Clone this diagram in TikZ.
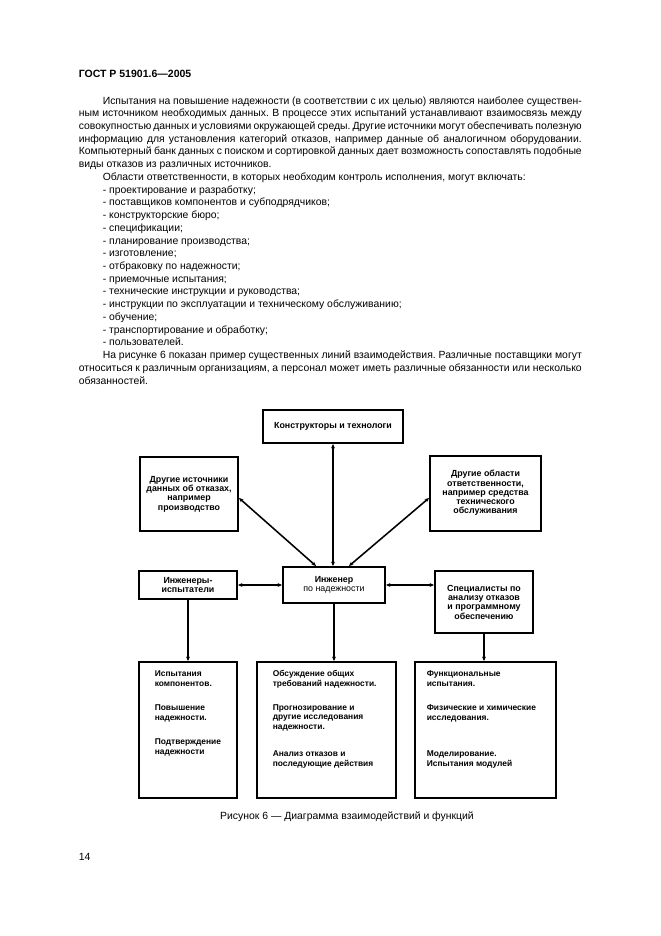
\documentclass[tikz,border=0pt]{standalone}
\usepackage{fontspec}
\setmainfont{Liberation Sans}
\usetikzlibrary{arrows.meta,positioning,calc}
\newlength\pxu
\setlength\pxu{0.3175mm}
\frenchspacing

\begin{document}
\begin{tikzpicture}[x=\pxu,y=-\pxu,<->,>={Stealth[length=4pt,width=3.5pt]},
		line width=1.4pt, inner sep=0pt]
		\tikzstyle{para}=[font=\fontsize{9.4}{11}\selectfont,anchor=base west]
		\tikzstyle{box}=[draw,line width=1.8pt,align=center,
			font=\fontsize{8}{8.4}\selectfont\bfseries]
		\tikzstyle{note}=[anchor=base west,align=left,
			font=\fontsize{7.6}{8.2}\selectfont\bfseries]
		\useasboundingbox (0,0) rectangle (661,936);

		\node[para,font=\fontsize{9.5}{11}\selectfont\bfseries] (hdr) at (78,77) {ГОСТ Р 51901.6—2005};

		\foreach \x/\w/\al/\t [count=\i] in {
			102/479/s/{Испытания на повышение надежности (в соответствии с их целью) являются наиболее существен-},
			78/503/s/{ным источником необходимых данных. В процессе этих испытаний устанавливают взаимосвязь между},
			78/503/s/{совокупностью данных и условиями окружающей среды. Другие источники могут обеспечивать полезную},
			78/503/s/{информацию для установления категорий отказов, например данные об аналогичном оборудовании.},
			78/503/s/{Компьютерный банк данных с поиском и сортировкой данных дает возможность сопоставлять подобные},
			78/503/l/{виды отказов из различных источников.},
			102/479/l/{Области ответственности, в которых необходим контроль исполнения, могут включать:},
			102/479/l/{- проектирование и разработку;},
			102/479/l/{- поставщиков компонентов и субподрядчиков;},
			102/479/l/{- конструкторские бюро;},
			102/479/l/{- спецификации;},
			102/479/l/{- планирование производства;},
			102/479/l/{- изготовление;},
			102/479/l/{- отбраковку по надежности;},
			102/479/l/{- приемочные испытания;},
			102/479/l/{- технические инструкции и руководства;},
			102/479/l/{- инструкции по эксплуатации и техническому обслуживанию;},
			102/479/l/{- обучение;},
			102/479/l/{- транспортирование и обработку;},
			102/479/l/{- пользователей.},
			102/479/s/{На рисунке 6 показан пример существенных линий взаимодействия. Различные поставщики могут},
			78/503/s/{относиться к различным организациям, а персонал может иметь различные обязанности или несколько},
			78/503/l/{обязанностей.}}
			\node[para] (t\i) at (\x,{104+12.73*(\i-1)}) {\makebox[\w\pxu][\al]{\t}};

		% diagram
		\node[box, minimum width=140\pxu, minimum height=33\pxu] (ktech) at (333,426.5) {Конструкторы и технологи};
		\node[box, minimum width=98\pxu, minimum height=74\pxu] (isrc) at (189,494) {Другие источники\\данных об отказах,\\например\\производство};
		\node[box, minimum width=111\pxu, minimum height=75\pxu] (rsrc) at (485.5,493) {Другие области\\ответственности,\\например средства\\технического\\обслуживания};
		\node[box, minimum width=98\pxu, minimum height=28\pxu] (tst) at (188,585) {Инженеры-\\испытатели};
		\node[box, minimum width=102\pxu, minimum height=36\pxu] (eng) at (334,585) {Инженер\\\mdseries по надежности};
		\node[box, minimum width=98\pxu, minimum height=62\pxu] (spec) at (484,602) {Специалисты по\\анализу отказов\\и программному\\обеспечению};

		\node[box, minimum width=98\pxu, minimum height=136\pxu] (cmp) at (188,730) {};
		\node[box, minimum width=139\pxu, minimum height=136\pxu] (gen) at (326.5,730) {};
		\node[box, minimum width=141\pxu, minimum height=136\pxu] (fun) at (485.5,730) {};

		% groups of text in the lower boxes (anchored at the last line)
		\node[note] (cmp1) at ($(cmp.north west)+(16,25)$) {Испытания\\компонентов.};
		\node[note] (cmp2) at ($(cmp.north west)+(16,59)$) {Повышение\\надежности.};
		\node[note] (cmp3) at ($(cmp.north west)+(16,93)$) {Подтверждение\\надежности};
		\node[note] (gen1) at ($(gen.north west)+(16,25)$) {Обсуждение общих\\требований надежности.};
		\node[note] (gen2) at ($(gen.north west)+(16,68)$) {Прогнозирование и\\другие исследования\\надежности.};
		\node[note] (gen3) at ($(gen.north west)+(16,105)$) {Анализ отказов и\\последующие действия};
		\node[note] (fun1) at ($(fun.north west)+(12,25)$) {Функциональные\\испытания.};
		\node[note] (fun2) at ($(fun.north west)+(12,59)$) {Физические и химические\\исследования.};
		\node[note] (fun3) at ($(fun.north west)+(12,105)$) {Моделирование.\\Испытания модулей};

		\coordinate (srcl) at ($(isrc.east)+(0,4)$);
		\coordinate (srcr) at ($(rsrc.west)+(0,5)$);
		\coordinate (engl) at ($(eng.north west)+(34,0)$);
		\coordinate (engr) at ($(eng.north east)+(-37,0)$);

		\path (ktech.south)	edge 		(ktech.south |- eng.north)
		(srcl)			edge 		(engl)
		(srcr)			edge 		(engr)
		(tst)			edge 		(eng)
		(eng.east)		edge 		(eng.east -| spec.west)
		(tst)			edge [->] 	(cmp)
		(eng.south)		edge [->] 	(eng.south |- gen.north)
		(spec.south)		edge [->] 	(spec.south |- fun.north);

		\node[para,anchor=center] (cap) at (347,817) {Рисунок 6 — Диаграмма взаимодействий и функций};
		\node[para] (pg) at (78,860) {14};
		\end{tikzpicture}
\end{document}
